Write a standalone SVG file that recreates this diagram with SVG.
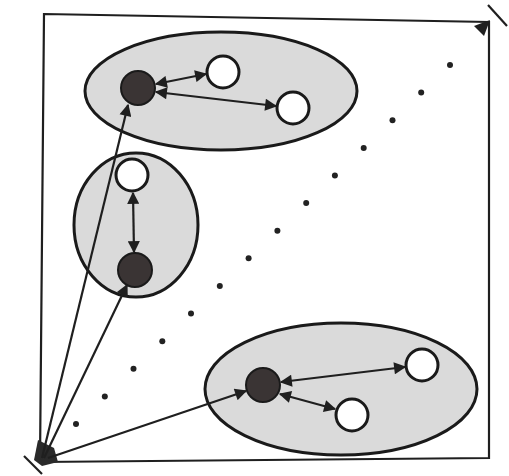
<svg xmlns="http://www.w3.org/2000/svg" width="509" height="476" viewBox="0 0 509 476">
<style>
.cl{fill:#dadada;stroke:#1a1a1a;stroke-width:3}
.dk{fill:#3a3434;stroke:#1a1a1a;stroke-width:2}
.wh{fill:#fff;stroke:#1a1a1a;stroke-width:3}
.ln{stroke:#1f1f1f;stroke-width:2.2;fill:none}
.dot{fill:#222}
</style>
<defs>
<marker id="ah" viewBox="0 0 10 10" refX="9" refY="5" markerWidth="6" markerHeight="5.5" orient="auto-start-reverse" markerUnits="strokeWidth">
<path d="M0,0 L10,5 L0,10 z" fill="#1f1f1f"/>
</marker>
</defs>
<rect width="509" height="476" fill="#fff"/>
<g id="frame">
<path class="ln" d="M44,14 L489,22 L489,458 L40,462 Z" stroke-width="3"/>
<line class="ln" x1="488" y1="5" x2="507" y2="26" stroke-width="4"/>
<line class="ln" x1="24" y1="456" x2="42" y2="474" stroke-width="4"/>
<polygon points="38,440 54,448 58,462 42,466 34,460" fill="#2a2a2a"/>
</g>
<g id="diagonal">
<circle class="dot" cx="76" cy="424" r="3"/>
<circle class="dot" cx="104.8" cy="396.4" r="3"/>
<circle class="dot" cx="133.5" cy="368.8" r="3"/>
<circle class="dot" cx="162.3" cy="341.2" r="3"/>
<circle class="dot" cx="191" cy="313.5" r="3"/>
<circle class="dot" cx="219.8" cy="285.9" r="3"/>
<circle class="dot" cx="248.6" cy="258.3" r="3"/>
<circle class="dot" cx="277.4" cy="230.7" r="3"/>
<circle class="dot" cx="306.2" cy="203.1" r="3"/>
<circle class="dot" cx="334.9" cy="175.5" r="3"/>
<circle class="dot" cx="363.7" cy="147.9" r="3"/>
<circle class="dot" cx="392.5" cy="120.3" r="3"/>
<circle class="dot" cx="421.2" cy="92.6" r="3"/>
<circle class="dot" cx="450" cy="65" r="3"/>
<polygon points="490,20 474,26 484,36" fill="#1f1f1f"/>
</g>
<g id="cluster-top">
<ellipse class="cl" cx="221" cy="91" rx="136" ry="59"/>
</g>
<g id="cluster-middle">
<ellipse class="cl" cx="136" cy="225" rx="62" ry="72"/>
</g>
<g id="cluster-bottom">
<ellipse class="cl" cx="341" cy="389" rx="136" ry="66"/>
</g>
<g id="connectors">
<line class="ln" x1="42" y1="458" x2="128" y2="105" marker-end="url(#ah)"/>
<line class="ln" x1="44" y1="458" x2="127" y2="285" marker-end="url(#ah)"/>
<line class="ln" x1="48" y1="458" x2="246" y2="391" marker-end="url(#ah)"/>
<line class="ln" x1="156" y1="84" x2="206" y2="74" marker-start="url(#ah)" marker-end="url(#ah)"/>
<line class="ln" x1="156" y1="92" x2="276" y2="106" marker-start="url(#ah)" marker-end="url(#ah)"/>
<line class="ln" x1="133" y1="193" x2="134" y2="252" marker-start="url(#ah)" marker-end="url(#ah)"/>
<line class="ln" x1="281" y1="382" x2="405" y2="367" marker-start="url(#ah)" marker-end="url(#ah)"/>
<line class="ln" x1="280" y1="394" x2="335" y2="409" marker-start="url(#ah)" marker-end="url(#ah)"/>
</g>
<g id="node-top-dark"><circle class="dk" cx="138" cy="88" r="17"/></g>
<g id="node-top-white1"><circle class="wh" cx="223" cy="72" r="16"/></g>
<g id="node-top-white2"><circle class="wh" cx="293" cy="108" r="16"/></g>
<g id="node-mid-white"><circle class="wh" cx="132" cy="175" r="16"/></g>
<g id="node-mid-dark"><circle class="dk" cx="135" cy="270" r="17"/></g>
<g id="node-bot-dark"><circle class="dk" cx="263" cy="385" r="17"/></g>
<g id="node-bot-white1"><circle class="wh" cx="422" cy="365" r="16"/></g>
<g id="node-bot-white2"><circle class="wh" cx="352" cy="415" r="16"/></g>
</svg>
